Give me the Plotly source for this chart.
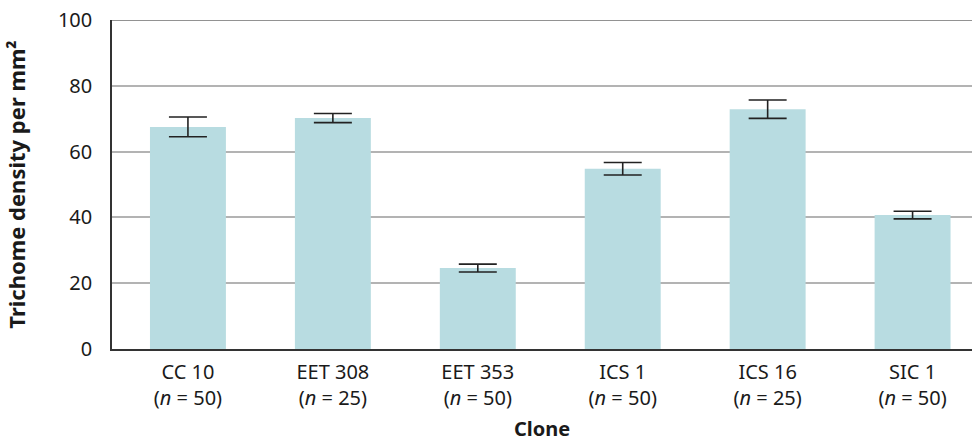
import plotly.graph_objects as go

clones = ["CC 10", "EET 308", "EET 353", "ICS 1", "ICS 16", "SIC 1"]
sample_sizes = [50, 25, 50, 50, 25, 50]
density = [67.5, 70.2, 24.6, 54.8, 72.9, 40.7]
density_err = [3.0, 1.4, 1.2, 1.9, 2.8, 1.15]
y_ticks = [0, 20, 40, 60, 80, 100]

tick_text = [f"{c}<br>(<i>n</i> = {n})" for c, n in zip(clones, sample_sizes)]
FONT = "Noto Sans"

fig = go.Figure(
    go.Bar(
        x=list(range(len(clones))),
        y=density,
        width=0.524,
        marker=dict(color="#b8dce1", line=dict(width=0)),
        error_y=dict(
            type="data",
            array=density_err,
            visible=True,
            color="#222222",
            thickness=1.6,
            width=19,
        ),
    )
)

fig.update_layout(
    width=972,
    height=442,
    margin=dict(l=112, r=0, t=20, b=93),
    plot_bgcolor="white",
    paper_bgcolor="white",
    showlegend=False,
    font=dict(family=FONT, size=20, color="#1a1a1a"),
    xaxis=dict(
        range=[-0.524, 5.41],
        tickmode="array",
        tickvals=list(range(len(clones))),
        ticktext=tick_text,
        showgrid=False,
        showline=True,
        linecolor="#333333",
        linewidth=1.5,
        ticks="",
        ticklabelstandoff=4,
        tickfont=dict(family=FONT, size=20, color="#1a1a1a"),
        title=dict(
            text="<b>Clone</b>",
            font=dict(family=FONT, size=20, color="#1a1a1a"),
            standoff=16,
        ),
    ),
    yaxis=dict(
        range=[0, 100],
        tickvals=y_ticks,
        showgrid=True,
        gridcolor="#b3b3b3",
        gridwidth=1.5,
        showline=True,
        linecolor="#333333",
        linewidth=1.5,
        ticks="",
        zeroline=False,
        ticklabelstandoff=14,
        tickfont=dict(family=FONT, size=20, color="#1a1a1a"),
        title=dict(
            text="<b>Trichome density per mm²</b>",
            font=dict(family=FONT, size=22, color="#1a1a1a"),
            standoff=26,
        ),
    ),
    shapes=[
        dict(
            type="line",
            xref="paper",
            yref="y",
            x0=0,
            x1=1,
            y0=100,
            y1=100,
            line=dict(color="#6e6e6e", width=1.5),
        )
    ],
)

fig.write_html("out.html")
